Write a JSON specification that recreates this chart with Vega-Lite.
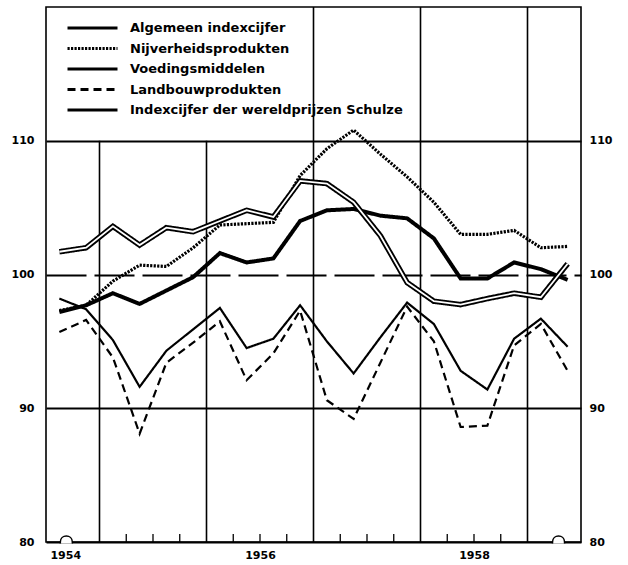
{
  "$schema": "https://vega.github.io/schema/vega-lite/v6.json",
  "width": 535,
  "height": 535,
  "autosize": "none",
  "padding": {"left": 46, "top": 7, "right": 47, "bottom": 23},
  "background": "white",
  "config": {
    "view": {"stroke": "black", "strokeWidth": 1.6},
    "font": "DejaVu Sans",
    "axis": {"labelFont": "DejaVu Sans", "labelFontWeight": "bold", "labelColor": "black", "labelFontSize": 11, "labelFlush": false, "labelOverlap": false, "ticks": false, "domain": false, "title": null}
  },
  "datasets": {
    "prices": [
      {"date": 1954.625, "Algemeen indexcijfer": 97.2, "Nijverheidsprodukten": 97.3, "Voedingsmiddelen": 98.2, "Landbouwprodukten": 95.7, "Indexcijfer der wereldprijzen Schulze": 101.7},
      {"date": 1954.875, "Algemeen indexcijfer": 97.7, "Nijverheidsprodukten": 97.7, "Voedingsmiddelen": 97.4, "Landbouwprodukten": 96.6, "Indexcijfer der wereldprijzen Schulze": 102.0},
      {"date": 1955.125, "Algemeen indexcijfer": 98.6, "Nijverheidsprodukten": 99.5, "Voedingsmiddelen": 95.1, "Landbouwprodukten": 93.8, "Indexcijfer der wereldprijzen Schulze": 103.6},
      {"date": 1955.375, "Algemeen indexcijfer": 97.8, "Nijverheidsprodukten": 100.7, "Voedingsmiddelen": 91.6, "Landbouwprodukten": 88.1, "Indexcijfer der wereldprijzen Schulze": 102.2},
      {"date": 1955.625, "Algemeen indexcijfer": 98.8, "Nijverheidsprodukten": 100.6, "Voedingsmiddelen": 94.3, "Landbouwprodukten": 93.4, "Indexcijfer der wereldprijzen Schulze": 103.5},
      {"date": 1955.875, "Algemeen indexcijfer": 99.8, "Nijverheidsprodukten": 102.0, "Voedingsmiddelen": 95.9, "Landbouwprodukten": 94.9, "Indexcijfer der wereldprijzen Schulze": 103.2},
      {"date": 1956.125, "Algemeen indexcijfer": 101.6, "Nijverheidsprodukten": 103.7, "Voedingsmiddelen": 97.5, "Landbouwprodukten": 96.5, "Indexcijfer der wereldprijzen Schulze": 104.0},
      {"date": 1956.375, "Algemeen indexcijfer": 100.9, "Nijverheidsprodukten": 103.8, "Voedingsmiddelen": 94.5, "Landbouwprodukten": 92.1, "Indexcijfer der wereldprijzen Schulze": 104.8},
      {"date": 1956.625, "Algemeen indexcijfer": 101.2, "Nijverheidsprodukten": 103.9, "Voedingsmiddelen": 95.2, "Landbouwprodukten": 94.1, "Indexcijfer der wereldprijzen Schulze": 104.3},
      {"date": 1956.875, "Algemeen indexcijfer": 104.0, "Nijverheidsprodukten": 107.4, "Voedingsmiddelen": 97.7, "Landbouwprodukten": 97.3, "Indexcijfer der wereldprijzen Schulze": 107.0},
      {"date": 1957.125, "Algemeen indexcijfer": 104.8, "Nijverheidsprodukten": 109.4, "Voedingsmiddelen": 95.0, "Landbouwprodukten": 90.6, "Indexcijfer der wereldprijzen Schulze": 106.8},
      {"date": 1957.375, "Algemeen indexcijfer": 104.9, "Nijverheidsprodukten": 110.8, "Voedingsmiddelen": 92.6, "Landbouwprodukten": 89.2, "Indexcijfer der wereldprijzen Schulze": 105.4},
      {"date": 1957.625, "Algemeen indexcijfer": 104.4, "Nijverheidsprodukten": 109.0, "Voedingsmiddelen": 95.3, "Landbouwprodukten": 93.4, "Indexcijfer der wereldprijzen Schulze": 102.9},
      {"date": 1957.875, "Algemeen indexcijfer": 104.2, "Nijverheidsprodukten": 107.3, "Voedingsmiddelen": 97.9, "Landbouwprodukten": 97.6, "Indexcijfer der wereldprijzen Schulze": 99.4},
      {"date": 1958.125, "Algemeen indexcijfer": 102.7, "Nijverheidsprodukten": 105.4, "Voedingsmiddelen": 96.3, "Landbouwprodukten": 95.0, "Indexcijfer der wereldprijzen Schulze": 98.0},
      {"date": 1958.375, "Algemeen indexcijfer": 99.7, "Nijverheidsprodukten": 103.0, "Voedingsmiddelen": 92.8, "Landbouwprodukten": 88.6, "Indexcijfer der wereldprijzen Schulze": 97.75},
      {"date": 1958.625, "Algemeen indexcijfer": 99.7, "Nijverheidsprodukten": 103.0, "Voedingsmiddelen": 91.4, "Landbouwprodukten": 88.7, "Indexcijfer der wereldprijzen Schulze": 98.2},
      {"date": 1958.875, "Algemeen indexcijfer": 100.9, "Nijverheidsprodukten": 103.3, "Voedingsmiddelen": 95.2, "Landbouwprodukten": 94.7, "Indexcijfer der wereldprijzen Schulze": 98.6},
      {"date": 1959.125, "Algemeen indexcijfer": 100.4, "Nijverheidsprodukten": 102.0, "Voedingsmiddelen": 96.7, "Landbouwprodukten": 96.3, "Indexcijfer der wereldprijzen Schulze": 98.3},
      {"date": 1959.375, "Algemeen indexcijfer": 99.6, "Nijverheidsprodukten": 102.1, "Voedingsmiddelen": 94.6, "Landbouwprodukten": 92.8, "Indexcijfer der wereldprijzen Schulze": 100.8}
    ],
    "years": [
      {"year": 1955, "top": 110},
      {"year": 1956, "top": 110},
      {"year": 1957, "top": 120},
      {"year": 1958, "top": 120},
      {"year": 1959, "top": 120}
    ],
    "quarters": [
      {"q": 1955.25}, {"q": 1955.5}, {"q": 1955.75},
      {"q": 1956.25}, {"q": 1956.5}, {"q": 1956.75},
      {"q": 1957.25}, {"q": 1957.5}, {"q": 1957.75},
      {"q": 1958.25}, {"q": 1958.5}, {"q": 1958.75}
    ],
    "bumps": [{"x": 1954.69}, {"x": 1959.29}]
  },
  "layer": [
    {
      "data": {"name": "years"},
      "mark": {"type": "rule", "color": "black", "strokeWidth": 1.6},
      "encoding": {
        "x": {"field": "year", "type": "quantitative", "scale": {"domain": [1954.5, 1959.5], "nice": false, "zero": false}, "axis": null},
        "y": {"field": "top", "type": "quantitative", "scale": {"domain": [80, 120], "nice": false, "zero": false},
              "axis": {"orient": "right", "values": [80, 90, 100, 110], "grid": false, "labelPadding": 8}},
        "y2": {"datum": 80}
      }
    },
    {
      "data": {"name": "quarters"},
      "mark": {"type": "rule", "color": "black", "strokeWidth": 1.3},
      "encoding": {
        "x": {"field": "q", "type": "quantitative", "scale": {"domain": [1954.5, 1959.5], "nice": false, "zero": false}, "axis": null},
        "y": {"datum": 80, "type": "quantitative", "scale": {"domain": [80, 120], "nice": false, "zero": false}, "axis": null},
        "y2": {"datum": 80.6}
      }
    },
    {
      "data": {"name": "prices"},
      "transform": [{"fold": ["Algemeen indexcijfer", "Nijverheidsprodukten", "Voedingsmiddelen", "Landbouwprodukten", "Indexcijfer der wereldprijzen Schulze"], "as": ["series", "value"]}],
      "mark": {"type": "line", "strokeJoin": "miter"},
      "encoding": {
        "x": {"field": "date", "type": "quantitative", "scale": {"domain": [1954.5, 1959.5], "nice": false, "zero": false},
              "axis": {"orient": "bottom", "values": [1954.68, 1956.5, 1958.5], "labelExpr": "floor(datum.value) + ''", "grid": false, "labelPadding": 7, "labelFontSize": 11}},
        "y": {"field": "value", "type": "quantitative", "scale": {"domain": [80, 120], "nice": false, "zero": false},
              "axis": {"orient": "left", "values": [80, 90, 100, 110], "grid": true, "gridColor": "black", "gridWidth": 1.8,
                       "gridDash": {"condition": {"test": "datum.value === 100", "value": [40, 8]}, "value": [1, 0]},
                       "labelPadding": 12}},
        "stroke": {"field": "series", "type": "nominal",
                   "scale": {"domain": ["Algemeen indexcijfer", "Nijverheidsprodukten", "Voedingsmiddelen", "Landbouwprodukten", "Indexcijfer der wereldprijzen Schulze"], "range": ["black", "black", "black", "black", "black"]},
                   "legend": {"orient": "none", "legendX": 20, "legendY": 14, "direction": "vertical", "title": null, "padding": 0,
                              "symbolType": "stroke", "symbolSize": 2500, "clipHeight": 14, "rowPadding": 6.5, "labelOffset": 11, "symbolStrokeWidth": 3,
                              "labelFont": "DejaVu Sans", "labelFontSize": 13, "labelFontWeight": "bold", "labelColor": "black", "labelLimit": 400}},
        "strokeDash": {"field": "series", "type": "nominal",
                   "scale": {"domain": ["Algemeen indexcijfer", "Nijverheidsprodukten", "Voedingsmiddelen", "Landbouwprodukten", "Indexcijfer der wereldprijzen Schulze"], "range": [[1, 0], [2.2, 1.3], [1, 0], [8, 5], [1, 0]]},
                   "legend": {"orient": "none", "legendX": 20, "legendY": 14, "direction": "vertical", "title": null, "padding": 0,
                              "symbolType": "stroke", "symbolSize": 2500, "clipHeight": 14, "rowPadding": 6.5, "labelOffset": 11, "symbolStrokeWidth": 3,
                              "labelFont": "DejaVu Sans", "labelFontSize": 13, "labelFontWeight": "bold", "labelColor": "black", "labelLimit": 400}},
        "strokeWidth": {"condition": [
          {"test": "datum.series === 'Algemeen indexcijfer'", "value": 4},
          {"test": "datum.series === 'Nijverheidsprodukten'", "value": 3.2},
          {"test": "datum.series === 'Indexcijfer der wereldprijzen Schulze'", "value": 5.5}
        ], "value": 2.2}
      }
    },
    {
      "data": {"name": "prices"},
      "mark": {"type": "line", "color": "white", "strokeWidth": 1.8},
      "encoding": {
        "x": {"field": "date", "type": "quantitative", "scale": {"domain": [1954.5, 1959.5], "nice": false, "zero": false}, "axis": null},
        "y": {"field": "Indexcijfer der wereldprijzen Schulze", "type": "quantitative", "scale": {"domain": [80, 120], "nice": false, "zero": false}, "axis": null}
      }
    },
    {
      "data": {"name": "bumps"},
      "mark": {"type": "point", "shape": "M -1 0.25 L -1 0 C -1 -1.33 1 -1.33 1 0 L 1 0.25", "filled": true, "fill": "white", "stroke": "black", "strokeWidth": 1.5, "size": 144, "opacity": 1},
      "encoding": {
        "x": {"field": "x", "type": "quantitative", "scale": {"domain": [1954.5, 1959.5], "nice": false, "zero": false}, "axis": null},
        "y": {"datum": 80, "type": "quantitative", "scale": {"domain": [80, 120], "nice": false, "zero": false}, "axis": null}
      }
    }
  ],
  "resolve": {"axis": {"x": "independent", "y": "independent"}}
}
